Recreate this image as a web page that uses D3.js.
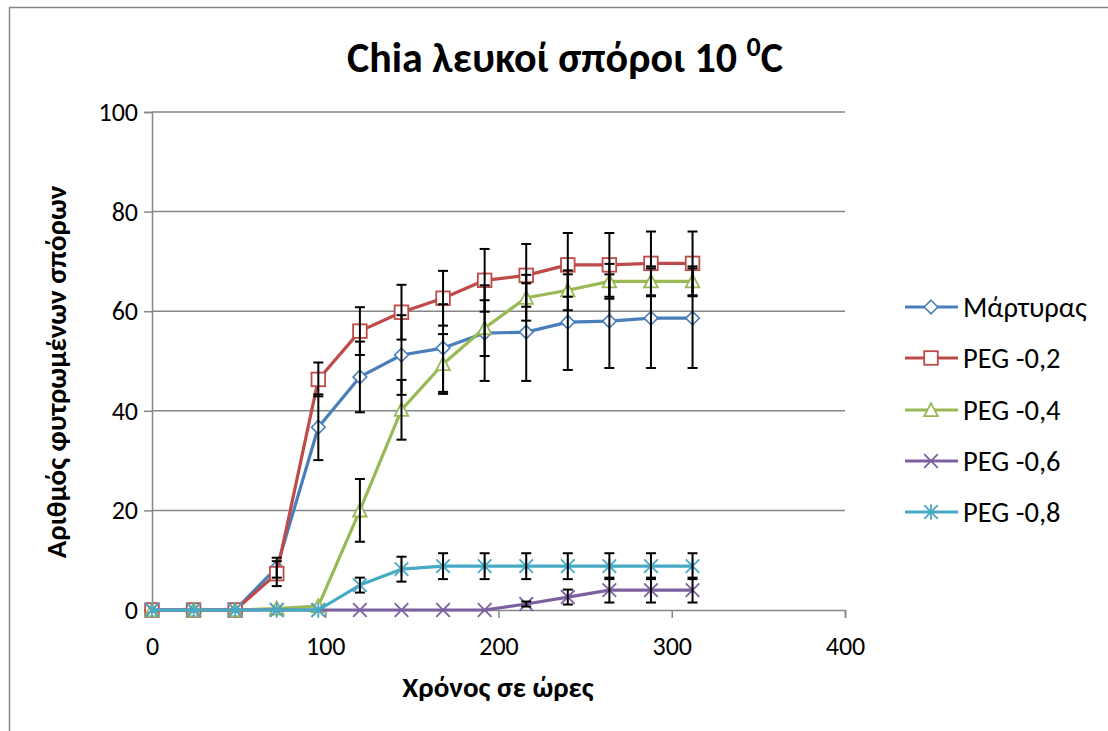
<!DOCTYPE html>
<html><head><meta charset="utf-8">
<script src="https://cdn.jsdelivr.net/npm/d3@7"></script>
<style>body{margin:0;background:#fff}svg{display:block}text{font-family:Carlito,Calibri,'Liberation Sans',sans-serif}</style>
</head><body>
<svg id="c" width="1108" height="731"></svg>
<script>
const hours = [0,24,48,72,96,120,144,168,192,216,240,264,288,312];
const seriesNames = ["Μάρτυρας","PEG -0,2","PEG -0,4","PEG -0,6","PEG -0,8"];
const martyras    = [0,0,0,8.5,36.7,46.8,51.2,52.6,55.6,55.8,57.8,58.0,58.6,58.6];
const martyrasErr = [0,0,0,2.0,6.6,7.1,8.0,8.8,9.6,9.8,9.6,9.4,10,10];
const peg02       = [0,0,0,7.3,46.3,56.0,59.8,62.6,66.2,67.2,69.3,69.3,69.6,69.6];
const peg02Err    = [0,0,0,2.5,3.4,4.8,5.5,5.5,6.3,6.3,6.4,6.4,6.4,6.4];
const peg04       = [0,0,0,0.3,0.8,20.0,40.2,49.4,56.6,62.7,64.2,66.0,66.0,66.0];
const peg04Err    = [0,0,0,0,0,6.3,6.0,6.0,5.6,4.6,4.0,3.5,3.0,3.0];
const peg06       = [0,0,0,0,0,0,0,0,0,1.2,2.6,4.0,4.0,4.0];
const peg06Err    = [0,0,0,0,0,0,0,0,0,0.5,1.5,2.5,2.5,2.5];
const peg08       = [0,0,0,0,0,5.0,8.2,8.8,8.8,8.8,8.8,8.8,8.8,8.8];
const peg08Err    = [0,0,0,0,0,1.5,2.5,2.6,2.6,2.6,2.6,2.6,2.6,2.6];
const xTicks = [0,100,200,300,400];
const yTicks = [0,20,40,60,80,100];
const colors = ["#4A7EBB","#BE4B48","#98B954","#7D60A0","#46AAC5"];
const markers = ["diamond","square","triangle","x","star"];

const values = [martyras,peg02,peg04,peg06,peg08];
const errs = [martyrasErr,peg02Err,peg04Err,peg06Err,peg08Err];
const series = seriesNames.map((n,i)=>({name:n,color:colors[i],marker:markers[i],
  pts:hours.map((h,j)=>({x:h,y:values[i][j],e:errs[i][j]}))}));

const svg = d3.select("#c");
const x = d3.scaleLinear().domain([0,400]).range([152,845]);
const y = d3.scaleLinear().domain([0,100]).range([610,112]);
const grey = "#868686";
const FONT = "Carlito,Calibri,'Liberation Sans',sans-serif";

// chart border
svg.append("rect").attr("x",9.5).attr("y",7.5).attr("width",1120).attr("height",740)
  .attr("fill","none").attr("stroke",grey).attr("stroke-width",1.5);

// gridlines
svg.append("g").selectAll("line").data(yTicks.filter(d=>d>0)).join("line")
  .attr("x1",x(0)).attr("x2",x(400)).attr("y1",d=>y(d)).attr("y2",d=>y(d))
  .attr("stroke",grey).attr("stroke-width",1.5);

// axes
const yAxis = svg.append("g").attr("transform",`translate(${x(0)},0)`)
  .call(d3.axisLeft(y).tickValues(yTicks).tickSize(8).tickPadding(7).tickFormat(d3.format("d")));
const xAxis = svg.append("g").attr("transform",`translate(0,${y(0)})`)
  .call(d3.axisBottom(x).tickValues(xTicks).tickSize(8).tickPadding(14).tickFormat(d3.format("d")));
[yAxis,xAxis].forEach(a=>{
  a.select(".domain").attr("stroke",grey).attr("stroke-width",1.5);
  a.selectAll(".tick line").attr("stroke",grey).attr("stroke-width",1.5);
  a.selectAll(".tick text").attr("fill","#000").style("font-size","26px").style("font-family",FONT);
});
yAxis.selectAll(".tick text").attr("x",-14).attr("dy","0.33em");
xAxis.selectAll(".tick text").attr("y",45).attr("dy",0);

// symbol drawing
function drawMarker(g, type, color){
  const s = 6.8;
  if(type==="diamond") g.append("path").attr("d",`M0,${-s}L${s},0L0,${s}L${-s},0Z`).attr("fill","#fff").attr("stroke",color).attr("stroke-width",1.6);
  else if(type==="square") g.append("rect").attr("x",-s).attr("y",-s).attr("width",2*s).attr("height",2*s).attr("fill","#fff").attr("stroke",color).attr("stroke-width",1.8);
  else if(type==="triangle") g.append("path").attr("d",`M0,${-s}L${s},${s*0.9}L${-s},${s*0.9}Z`).attr("fill","#fff").attr("stroke",color).attr("stroke-width",1.8);
  else if(type==="x") g.append("path").attr("d",`M${-s},${-s}L${s},${s}M${-s},${s}L${s},${-s}`).attr("stroke",color).attr("stroke-width",1.8);
  else if(type==="star") g.append("path").attr("d",`M${-s},${-s}L${s},${s}M${-s},${s}L${s},${-s}M0,${-s-1}L0,${s+1}`).attr("stroke",color).attr("stroke-width",1.8);
}

const line = d3.line().x(d=>x(d.x)).y(d=>y(d.y));
series.forEach(s=>{
  svg.append("path").datum(s.pts).attr("d",line).attr("fill","none")
    .attr("stroke",s.color).attr("stroke-width",3.2).attr("stroke-linejoin","round");
  s.pts.forEach(p=>{
    const g = svg.append("g").attr("transform",`translate(${x(p.x)},${y(p.y)})`);
    drawMarker(g,s.marker,s.color);
  });
});

// error bars
series.forEach(s=>{
  const eb = svg.append("g").attr("stroke","#000").attr("stroke-width",2);
  s.pts.filter(p=>p.e>0).forEach(p=>{
    const cx = x(p.x), t = y(p.y+p.e), b = y(p.y-p.e);
    eb.append("line").attr("x1",cx).attr("x2",cx).attr("y1",t).attr("y2",b);
    eb.append("line").attr("x1",cx-5).attr("x2",cx+5).attr("y1",t).attr("y2",t);
    eb.append("line").attr("x1",cx-5).attr("x2",cx+5).attr("y1",b).attr("y2",b);
  });
});

// title
const title = svg.append("text").attr("x",565).attr("y",72).attr("text-anchor","middle")
  .style("font-size","42px").style("font-weight","bold");
title.append("tspan").text("Chia λευκοί σπόροι 10 ");
title.append("tspan").text("0").style("font-size","28px").attr("dy",-16);
title.append("tspan").text("C").attr("dy",16);

// axis titles
svg.append("text").attr("transform","translate(66,372) rotate(-90)").attr("text-anchor","middle")
  .style("font-size","29px").style("font-weight","bold").text("Αριθμός φυτρωμένων σπόρων");
svg.append("text").attr("x",498).attr("y",697).attr("text-anchor","middle")
  .style("font-size","29px").style("font-weight","bold").text("Χρόνος σε ώρες");

// legend
const lg = svg.append("g");
const rowsY = [307,358,410,461,512];
series.forEach((s,i)=>{
  const g = lg.append("g").attr("transform",`translate(0,${rowsY[i]})`);
  g.append("line").attr("x1",905).attr("x2",958).attr("y1",0).attr("y2",0).attr("stroke",s.color).attr("stroke-width",3.2);
  const m = g.append("g").attr("transform","translate(931,0)");
  drawMarker(m,s.marker,s.color);
  g.append("text").attr("x",963).attr("y",0).attr("dy","0.35em").style("font-size","28.5px").text(s.name);
});
</script>
</body></html>
